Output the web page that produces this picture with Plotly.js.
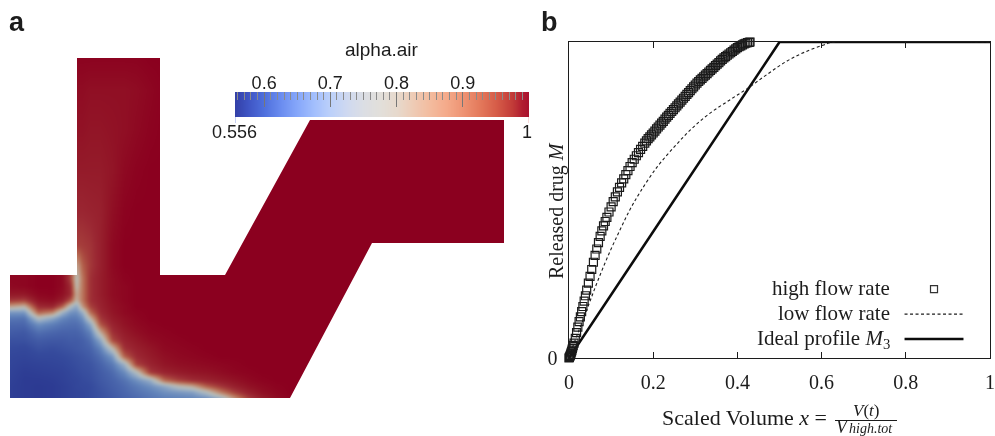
<!DOCTYPE html>
<html><head><meta charset="utf-8">
<script src="https://cdn.plot.ly/plotly-3.0.1.min.js"></script>
<style>html,body{margin:0;padding:0;background:#fff;overflow:hidden}#plot{width:995px;height:436px;filter:blur(0.45px)}
.subplot.xy .heatmaplayer image{filter:blur(1.6px)}</style>
</head><body><div id="plot"></div>
<script>
// ---------- panel a: alpha.air field ----------
const fieldX=[-10,0,14,28,42,52,60,66,72,80,90,102,114,126,140,154,168,182,196,210,224,238,252,266,280,320,410,494,504];
const fieldY=[-10,0,32,72,112,152,187,207,220,228,236,242,248,254,260,266,274,282,290,298,306,314,322,328,334,340,352];
const c000=[1,1,1,1,1,1,.99,.99,.985,.96,.91,.81,.70,.66,.64,.625,.61,.60,.59,.585,.58,.575,.57,.57,.57];
const c014=[1,1,1,1,1,1,.99,.99,.99,.96,.90,.79,.70,.655,.64,.62,.61,.595,.585,.575,.565,.56,.56,.56,.56];
const c028=[1,1,1,1,1,1,1,1,1,.99,.97,.93,.87,.76,.69,.65,.625,.61,.595,.58,.57,.56,.556,.556,.556];
const c042=[1,1,1,1,1,1,1,1,1,.995,.98,.94,.84,.72,.67,.64,.62,.605,.595,.585,.575,.565,.56,.56,.56];
const c052=[.99,.98,.97,.96,.95,.94,.985,.985,.985,.975,.95,.87,.74,.68,.655,.635,.62,.61,.60,.59,.58,.575,.57,.57,.57];
const c060=[.99,.98,.97,.96,.95,.92,.90,.90,.93,.935,.88,.76,.695,.665,.65,.635,.625,.615,.605,.60,.59,.585,.58,.58,.58];
const c066=[.995,.98,.97,.955,.935,.90,.80,.77,.78,.80,.79,.72,.69,.665,.65,.635,.625,.62,.61,.605,.60,.59,.59,.585,.585];
const c072=[.995,.98,.97,.955,.935,.905,.87,.85,.85,.85,.85,.82,.73,.69,.665,.645,.63,.625,.615,.61,.605,.60,.595,.59,.59];
const c080=[.995,.975,.965,.955,.94,.915,.91,.92,.92,.92,.92,.90,.86,.79,.72,.675,.65,.635,.625,.615,.61,.605,.60,.60,.60];
const c090=[.995,.975,.965,.955,.945,.945,.945,.95,.95,.95,.945,.94,.93,.91,.88,.80,.72,.675,.65,.635,.625,.62,.615,.61,.61];
const c102=[.995,.975,.97,.965,.975,.985,.985,.98,.98,.98,.975,.97,.965,.955,.94,.92,.89,.78,.70,.665,.645,.635,.63,.625,.62];
const c114=[.995,.975,.975,.985,.995,1,1,.995,.99,.99,.99,.985,.985,.975,.97,.955,.94,.92,.87,.735,.685,.655,.645,.64,.635];
const c126=[.995,.98,.985,.995,1,1,1,1,1,1,1,1,.995,.99,.985,.975,.96,.945,.93,.90,.76,.69,.665,.655,.645];
const c140=[1,.99,.995,1,1,1,1,1,1,1,1,1,1,1,.995,.99,.98,.965,.955,.94,.91,.73,.69,.67,.66];
const c154=[1,1,1,1,1,1,1,1,1,1,1,1,1,1,1,.995,.99,.985,.975,.965,.94,.86,.72,.69,.67];
const c168=[1,1,1,1,1,1,1,1,1,1,1,1,1,1,1,1,.995,.99,.985,.975,.955,.90,.77,.70,.675];
const c182=[1,1,1,1,1,1,1,1,1,1,1,1,1,1,1,1,1,.995,.99,.98,.965,.925,.80,.71,.68];
const c196=[1,1,1,1,1,1,1,1,1,1,1,1,1,1,1,1,1,1,.995,.985,.97,.94,.87,.76,.69];
const c210=[1,1,1,1,1,1,1,1,1,1,1,1,1,1,1,1,1,1,1,.99,.98,.955,.91,.84,.73];
const c224=[1,1,1,1,1,1,1,1,1,1,1,1,1,1,1,1,1,1,1,.995,.99,.97,.945,.90,.82];
const c238=[1,1,1,1,1,1,1,1,1,1,1,1,1,1,1,1,1,1,1,1,.995,.985,.97,.945,.90];
const c252=[1,1,1,1,1,1,1,1,1,1,1,1,1,1,1,1,1,1,1,1,1,.995,.985,.975,.95];
const c266=[1,1,1,1,1,1,1,1,1,1,1,1,1,1,1,1,1,1,1,1,1,1,.995,.99,.98];
const c280=[1,1,1,1,1,1,1,1,1,1,1,1,1,1,1,1,1,1,1,1,1,1,1,1,.995];
const c320=[1,1,1,1,1,1,1,1,1,1,1,1,1,1,1,1,1,1,1,1,1,1,1,1,1];
const fieldColumns=[c000,c000,c014,c028,c042,c052,c060,c066,c072,c080,c090,c102,c114,c126,c140,c154,c168,c182,c196,c210,c224,c238,c252,c266,c280,c320,c320,c320,c320];
// pad each column with its own end values so the softened image reaches the domain edge
const fieldZ=fieldColumns.map(c=>[c[0],...c,c[c.length-1]]);
// outside the flow domain (white)
const outsideX=[-10,67,67,0,0,-10,-10,null,150,504,504,300,215,150,150,null,504,504,280,362,504,null,-10,504,504,-10,-10,null,494,504,504,494,494,null,-10,504,504,-10,-10];
const outsideY=[-10,-10,217,217,352,352,-10,null,-10,-10,62,62,217,217,-10,null,185,352,340,185,185,null,340,340,352,352,340,null,-10,-10,352,352,-10,null,-10,-10,0,0,-10];
const alphaMin=0.556, alphaMax=1;
const fieldStops=[.556,.60,.64,.68,.72,.75,.78,.81,.84,.87,.90,.93,.96,.98,1];
const fieldColors=['#2c3a92','#354a9c','#4a66ac','#6486bb','#8ca5c4','#aab7c0','#b9bdb6','#c09f8a','#bd8269','#b3614b','#a6403c','#9b2833','#931828','#8f0c23','#8b001f'];
// colour bar
const barValues=[.556,.575,.6,.625,.65,.675,.7,.725,.75,.775,.8,.825,.85,.875,.9,.925,.95,.975,.99,1];
const barColors=['#3340a8','#3f55c4','#4f70dd','#6b8df0','#86a7fa','#a3bffd','#bcd0fa','#cfd9f0','#dbdee4','#e2dfda','#e7d9cc','#eecbb5','#f3bb9e','#f4aa8a','#ee9373','#e47a5c','#d65c48','#c23b38','#b01c30','#a8102e'];
const barTicks=[.6,.7,.8,.9];
// ---------- panel b ----------
const highX=[0,.001,.002,.003,.004,.005,.006,.007,.008,.009,.010,.012,.015,.018,.021,.024,.027,.030,.033,.036,.039,.042,.046,.050,.054,.058,.062,.066,.070,.074,.078,.082,.086,.090,.095,.100,.105,.110,.115,.120,.125,.130,.135,.140,.145,.150,.155,.160,.165,.170,.175,.180,.184,.188,.192,.196,.200,.204,.208,.212,.216,.220,.224,.228,.232,.236,.240,.244,.248,.252,.256,.260,.264,.268,.272,.276,.280,.284,.288,.292,.296,.300,.304,.308,.312,.316,.320,.324,.328,.332,.336,.340,.344,.348,.352,.356,.360,.364,.368,.372,.376,.380,.384,.388,.392,.396,.400,.404,.408,.412,.416,.420,.424,.428,.430];
const highY=[0,.002,.005,.008,.012,.016,.02,.025,.03,.035,.04,.047,.062,.08,.098,.115,.13,.147,.163,.18,.197,.215,.237,.258,.28,.303,.325,.345,.365,.385,.402,.418,.432,.445,.462,.478,.495,.51,.526,.54,.554,.567,.58,.593,.606,.618,.629,.64,.65,.66,.67,.68,.687,.694,.70,.706,.712,.718,.725,.731,.737,.743,.749,.756,.762,.768,.774,.78,.786,.792,.798,.804,.81,.816,.822,.828,.834,.84,.846,.852,.858,.864,.87,.875,.88,.885,.89,.895,.90,.905,.91,.915,.92,.925,.93,.935,.94,.945,.95,.954,.958,.962,.966,.97,.974,.978,.982,.985,.988,.991,.994,.996,.998,.999,1];
const lowX=[0,.01,.02,.033,.05,.07,.095,.121,.145,.169,.209,.25,.287,.33,.38,.425,.47,.518,.56,.603,.63,1];
const lowY=[0,.04,.075,.12,.18,.25,.33,.405,.47,.525,.604,.668,.72,.77,.815,.854,.897,.94,.968,.99,1,1];
const idealX=[0,.5,1];
const idealY=[0,1,1];
const ticksX=[0,.2,.4,.6,.8,1];
const ticksXText=['0','0.2','0.4','0.6','0.8','1'];

const W=995,H=436;
const px=v=>v/W, py=v=>1-v/H;
const ink='#1c1c1c', serif='"Liberation Serif", serif', sans='"Liberation Sans", sans-serif';
const scale=(stops,cols)=>stops.map((s,i)=>[(s-alphaMin)/(alphaMax-alphaMin),cols[i]]);

const traces=[
 {type:'heatmap',x:fieldX,y:fieldY,z:fieldZ,transpose:true,zsmooth:'best',zmin:alphaMin,zmax:alphaMax,colorscale:scale(fieldStops,fieldColors),showscale:false,hoverinfo:'skip',xaxis:'x',yaxis:'y'},
 {type:'scatter',mode:'lines',x:outsideX,y:outsideY,fill:'toself',fillcolor:'#fff',line:{width:0,color:'#fff'},hoverinfo:'skip',showlegend:false,xaxis:'x',yaxis:'y'},
 {type:'heatmap',x:barValues,y:[0,1],z:[barValues,barValues],zsmooth:'best',zmin:alphaMin,zmax:alphaMax,colorscale:scale(barValues,barColors),showscale:false,hoverinfo:'skip',xaxis:'x2',yaxis:'y2'},
 {type:'scatter',mode:'lines',x:idealX,y:idealY,line:{color:'#0c0c0c',width:2.6},cliponaxis:false,xaxis:'x3',yaxis:'y3',showlegend:false},
 {type:'scatter',mode:'lines',x:lowX,y:lowY,line:{color:'#1c1c1c',width:1.1,dash:'3px,2.5px',shape:'spline'},cliponaxis:false,xaxis:'x3',yaxis:'y3',showlegend:false},
 {type:'scatter',mode:'markers',x:highX,y:highY,marker:{symbol:'square-open',size:8,color:'#1a1a1a',line:{width:1.2,color:'#1a1a1a'}},cliponaxis:false,xaxis:'x3',yaxis:'y3',showlegend:false},
 {type:'scatter',mode:'markers',x:[.867],y:[.218],marker:{symbol:'square-open',size:7,color:'#333',line:{width:1.2,color:'#333'}},xaxis:'x3',yaxis:'y3',showlegend:false},
 {type:'scatter',mode:'lines',x:[.797,.937],y:[.139,.139],line:{color:'#1c1c1c',width:1.1,dash:'3px,2.5px'},xaxis:'x3',yaxis:'y3',showlegend:false},
 {type:'scatter',mode:'lines',x:[.797,.937],y:[.06,.06],line:{color:'#0c0c0c',width:2.6},xaxis:'x3',yaxis:'y3',showlegend:false}
];
const note=(text,x,y,size,family,anchor,extra)=>Object.assign({xref:'paper',yref:'paper',x:px(x),y:py(y),text,showarrow:false,xanchor:anchor||'center',yanchor:'middle',font:{size,family,color:ink}},extra||{});
const layout={
 width:W,height:H,margin:{l:0,r:0,t:0,b:0},paper_bgcolor:'#fff',plot_bgcolor:'#fff',showlegend:false,
 xaxis:{domain:[px(0),px(514)],range:[-10,504],visible:false,fixedrange:true},
 yaxis:{domain:[py(410),py(48)],range:[352,-10],visible:false,fixedrange:true},
 xaxis2:{domain:[px(235),px(529)],range:[alphaMin,alphaMax],anchor:'y2',side:'top',showline:false,showgrid:false,zeroline:false,
  tickmode:'array',tickvals:barTicks,ticktext:barTicks.map(String),ticks:'inside',ticklen:15,tickwidth:1,tickcolor:'#777',
  tickfont:{size:18,family:sans,color:ink},ticklabelstandoff:-2,
  minor:{dtick:.01,tick0:0,ticks:'inside',ticklen:8,tickwidth:1,tickcolor:'#8a8a8a',showgrid:false}},
 yaxis2:{domain:[py(117),py(92)],range:[0,25/17],visible:false,fixedrange:true,anchor:'x2'},
 xaxis3:{domain:[px(569),px(990)],range:[0,1],anchor:'y3',tickmode:'array',tickvals:ticksX,ticktext:ticksXText,ticks:'inside',ticklen:6,tickwidth:1,tickcolor:ink,
  showline:true,linecolor:ink,linewidth:1.4,mirror:'allticks',showgrid:false,zeroline:false,tickfont:{size:20,family:serif,color:ink},ticklabelstandoff:6},
 yaxis3:{domain:[py(358),py(42)],range:[0,1],anchor:'x3',tickmode:'array',tickvals:[0],ticktext:['0'],ticks:'inside',ticklen:6,tickwidth:1,tickcolor:ink,
  showline:true,linecolor:ink,linewidth:1.4,mirror:'allticks',showgrid:false,zeroline:false,tickfont:{size:20,family:serif,color:ink},ticklabelstandoff:6},
 shapes:[
  {type:'line',xref:'x2',yref:'paper',x0:alphaMin,x1:alphaMin,y0:py(117),y1:py(123),line:{color:'#8fa3e8',width:1}},
  {type:'line',xref:'x2',yref:'paper',x0:alphaMax,x1:alphaMax,y0:py(117),y1:py(123),line:{color:'#eeb0b0',width:1}},
  {type:'line',xref:'paper',yref:'paper',x0:px(835),x1:px(897),y0:py(420.5),y1:py(420.5),line:{color:ink,width:1}}
 ],
 annotations:[
  note('<b>a</b>',17,22,27,sans),
  note('<b>b</b>',549,22,27,sans),
  note('alpha.air',382,50,19,sans),
  note('0.556',234,132,18,sans),
  note('1',527,132,18,sans),
  note('Released drug <i>M</i>',556,211,20,serif,'center',{textangle:-90}),
  note('high flow rate',892,288,21,serif,'right'),
  note('low flow rate',892,313,21,serif,'right'),
  note('Ideal profile <i>M</i><sub>3</sub>',892,339,21,serif,'right'),
  note('Scaled Volume <i>x</i> =',829,417,22,serif,'right'),
  note('<i>V</i>(<i>t</i>)',866,410,17,serif),
  note('<i>V</i>',842,427,18,serif),
  note('<i>high.tot</i>',871,428,14,serif)
 ]
};
Plotly.newPlot('plot',traces,layout,{staticPlot:true,displayModeBar:false});
</script></body></html>
